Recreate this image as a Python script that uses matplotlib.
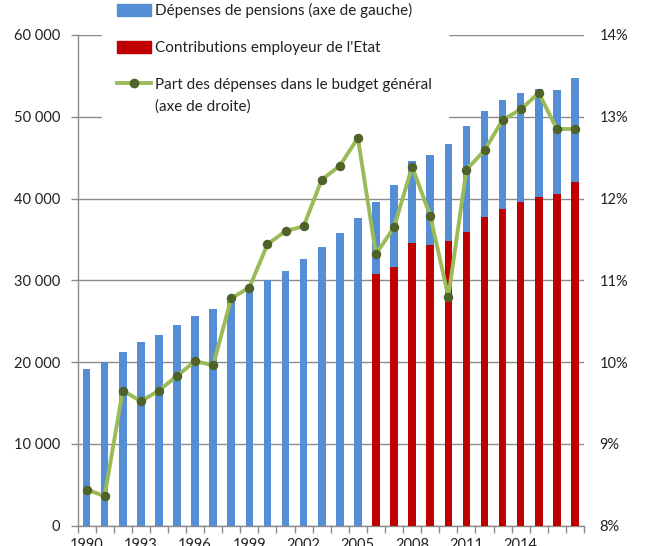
import matplotlib
matplotlib.use("Agg")
import matplotlib.pyplot as plt
from matplotlib.patches import Patch
from matplotlib.lines import Line2D
from matplotlib.legend_handler import HandlerLine2D
from matplotlib.ticker import FuncFormatter, FixedLocator

plt.rcParams['font.family'] = ['Lato', 'DejaVu Sans']

years = list(range(1990, 2018))
depenses = [19100, 20000, 21270, 22500, 23270, 24490, 25600, 26540, 27500, 28700,
            30000, 31150, 32660, 34090, 35760, 37600, 39590, 41600, 44540, 45270,
            46700, 48870, 50700, 52090, 52870, 53440, 53310, 54700]
contrib_years = list(range(2006, 2018))
contributions = [30820, 31560, 34540, 34370, 34810, 35920, 37760, 38700, 39600,
                 40200, 40490, 42060]
part_budget = [8.44, 8.36, 9.65, 9.52, 9.65, 9.83, 10.01, 9.96, 10.78, 10.91,
               11.44, 11.60, 11.66, 12.23, 12.40, 12.74, 11.32, 11.65, 12.39, 11.79,
               10.80, 12.35, 12.59, 12.96, 13.09, 13.29, 12.85, 12.85]
tick_years = [1990, 1993, 1996, 1999, 2002, 2005, 2008, 2011, 2014]
labels = ["Dépenses de pensions (axe de gauche)",
          "Contributions employeur de l'Etat",
          "Part des dépenses dans le budget général\n(axe de droite)"]

BLUE = '#558ED5'
RED = '#C00000'
GREEN = '#9BBB59'
DKGREEN = '#4F6228'
GRID = '#8C8C8C'


class RaisedLineHandler(HandlerLine2D):
    def create_artists(self, legend, orig_handle, xdescent, ydescent, width,
                       height, fontsize, trans):
        return super().create_artists(legend, orig_handle, xdescent,
                                      ydescent - 19, width, height, fontsize, trans)


W, H = 648, 546
fig = plt.figure(figsize=(W / 100, H / 100), dpi=100)
x0, x1, yb, yt = 77.5, 584, 525.5, 35
ax = fig.add_axes([x0 / W, (H - yb) / H, (x1 - x0) / W, (yb - yt) / H])

xpos = [y - 1990 for y in years]
cpos = [y - 1990 for y in contrib_years]
ax.bar(xpos, depenses, width=0.42, color=BLUE, zorder=2)
ax.bar(cpos, contributions, width=0.42, color=RED, zorder=3)

ax.set_xlim(-0.5, len(years) - 0.5)
ax.set_ylim(0, 60000)
ax.set_yticks(range(0, 60001, 10000))
ax.yaxis.set_major_formatter(FuncFormatter(lambda v, p: f"{int(v):,}".replace(",", " ")))
ax.yaxis.grid(True, color=GRID, lw=1, zorder=0)
ax.set_axisbelow(True)

ax.xaxis.set_major_locator(FixedLocator([y - 1990 for y in tick_years]))
ax.set_xticklabels([str(y) for y in tick_years])
ax.xaxis.set_minor_locator(FixedLocator([i - 0.5 for i in range(len(years) + 1)]))
ax.tick_params(axis='x', which='major', length=0, pad=9, labelsize=10.5, colors='#222222')
ax.tick_params(axis='x', which='minor', length=5, color=GRID, width=1)
ax.tick_params(axis='y', length=5, color=GRID, width=1, labelsize=10.5, pad=7.5, labelcolor='#222222')

for s in ['top', 'right']:
    ax.spines[s].set_visible(False)
for s in ['left', 'bottom']:
    ax.spines[s].set_color(GRID)
    ax.spines[s].set_linewidth(1)

ax2 = ax.twinx()
ax2.plot(xpos, part_budget, color=GREEN, lw=2.8, marker='o', ms=6,
         mfc=DKGREEN, mec=DKGREEN, mew=0.8, zorder=5)
ax2.set_ylim(8, 14)
ax2.set_yticks(range(8, 15))
ax2.yaxis.set_major_formatter(FuncFormatter(lambda v, p: f"{int(v)}%"))
ax2.tick_params(axis='y', length=0, pad=11, labelsize=10.5, labelcolor='#222222')
for s in ax2.spines.values():
    s.set_visible(False)

line_handle = Line2D([0], [0], color=GREEN, lw=2.8, marker='o', ms=6, mfc=DKGREEN, mec=DKGREEN)
handles = [Patch(color=BLUE), Patch(color=RED), line_handle]
leg = ax2.legend(handles, labels, loc='upper left',
                 bbox_to_anchor=(102 / W, 1 + 12 / H), bbox_transform=fig.transFigure,
                 frameon=True, fancybox=False, framealpha=1, edgecolor='white',
                 facecolor='white', fontsize=11, labelspacing=1.5,
                 handlelength=2.2, handleheight=0.75, handletextpad=0.3,
                 borderpad=1.0, borderaxespad=0,
                 handler_map={line_handle: RaisedLineHandler()})
leg.set_zorder(10)
for t in leg.get_texts():
    t.set_color('#222222')
    t.set_linespacing(1.6)

fig.savefig('out.png', dpi=100)
